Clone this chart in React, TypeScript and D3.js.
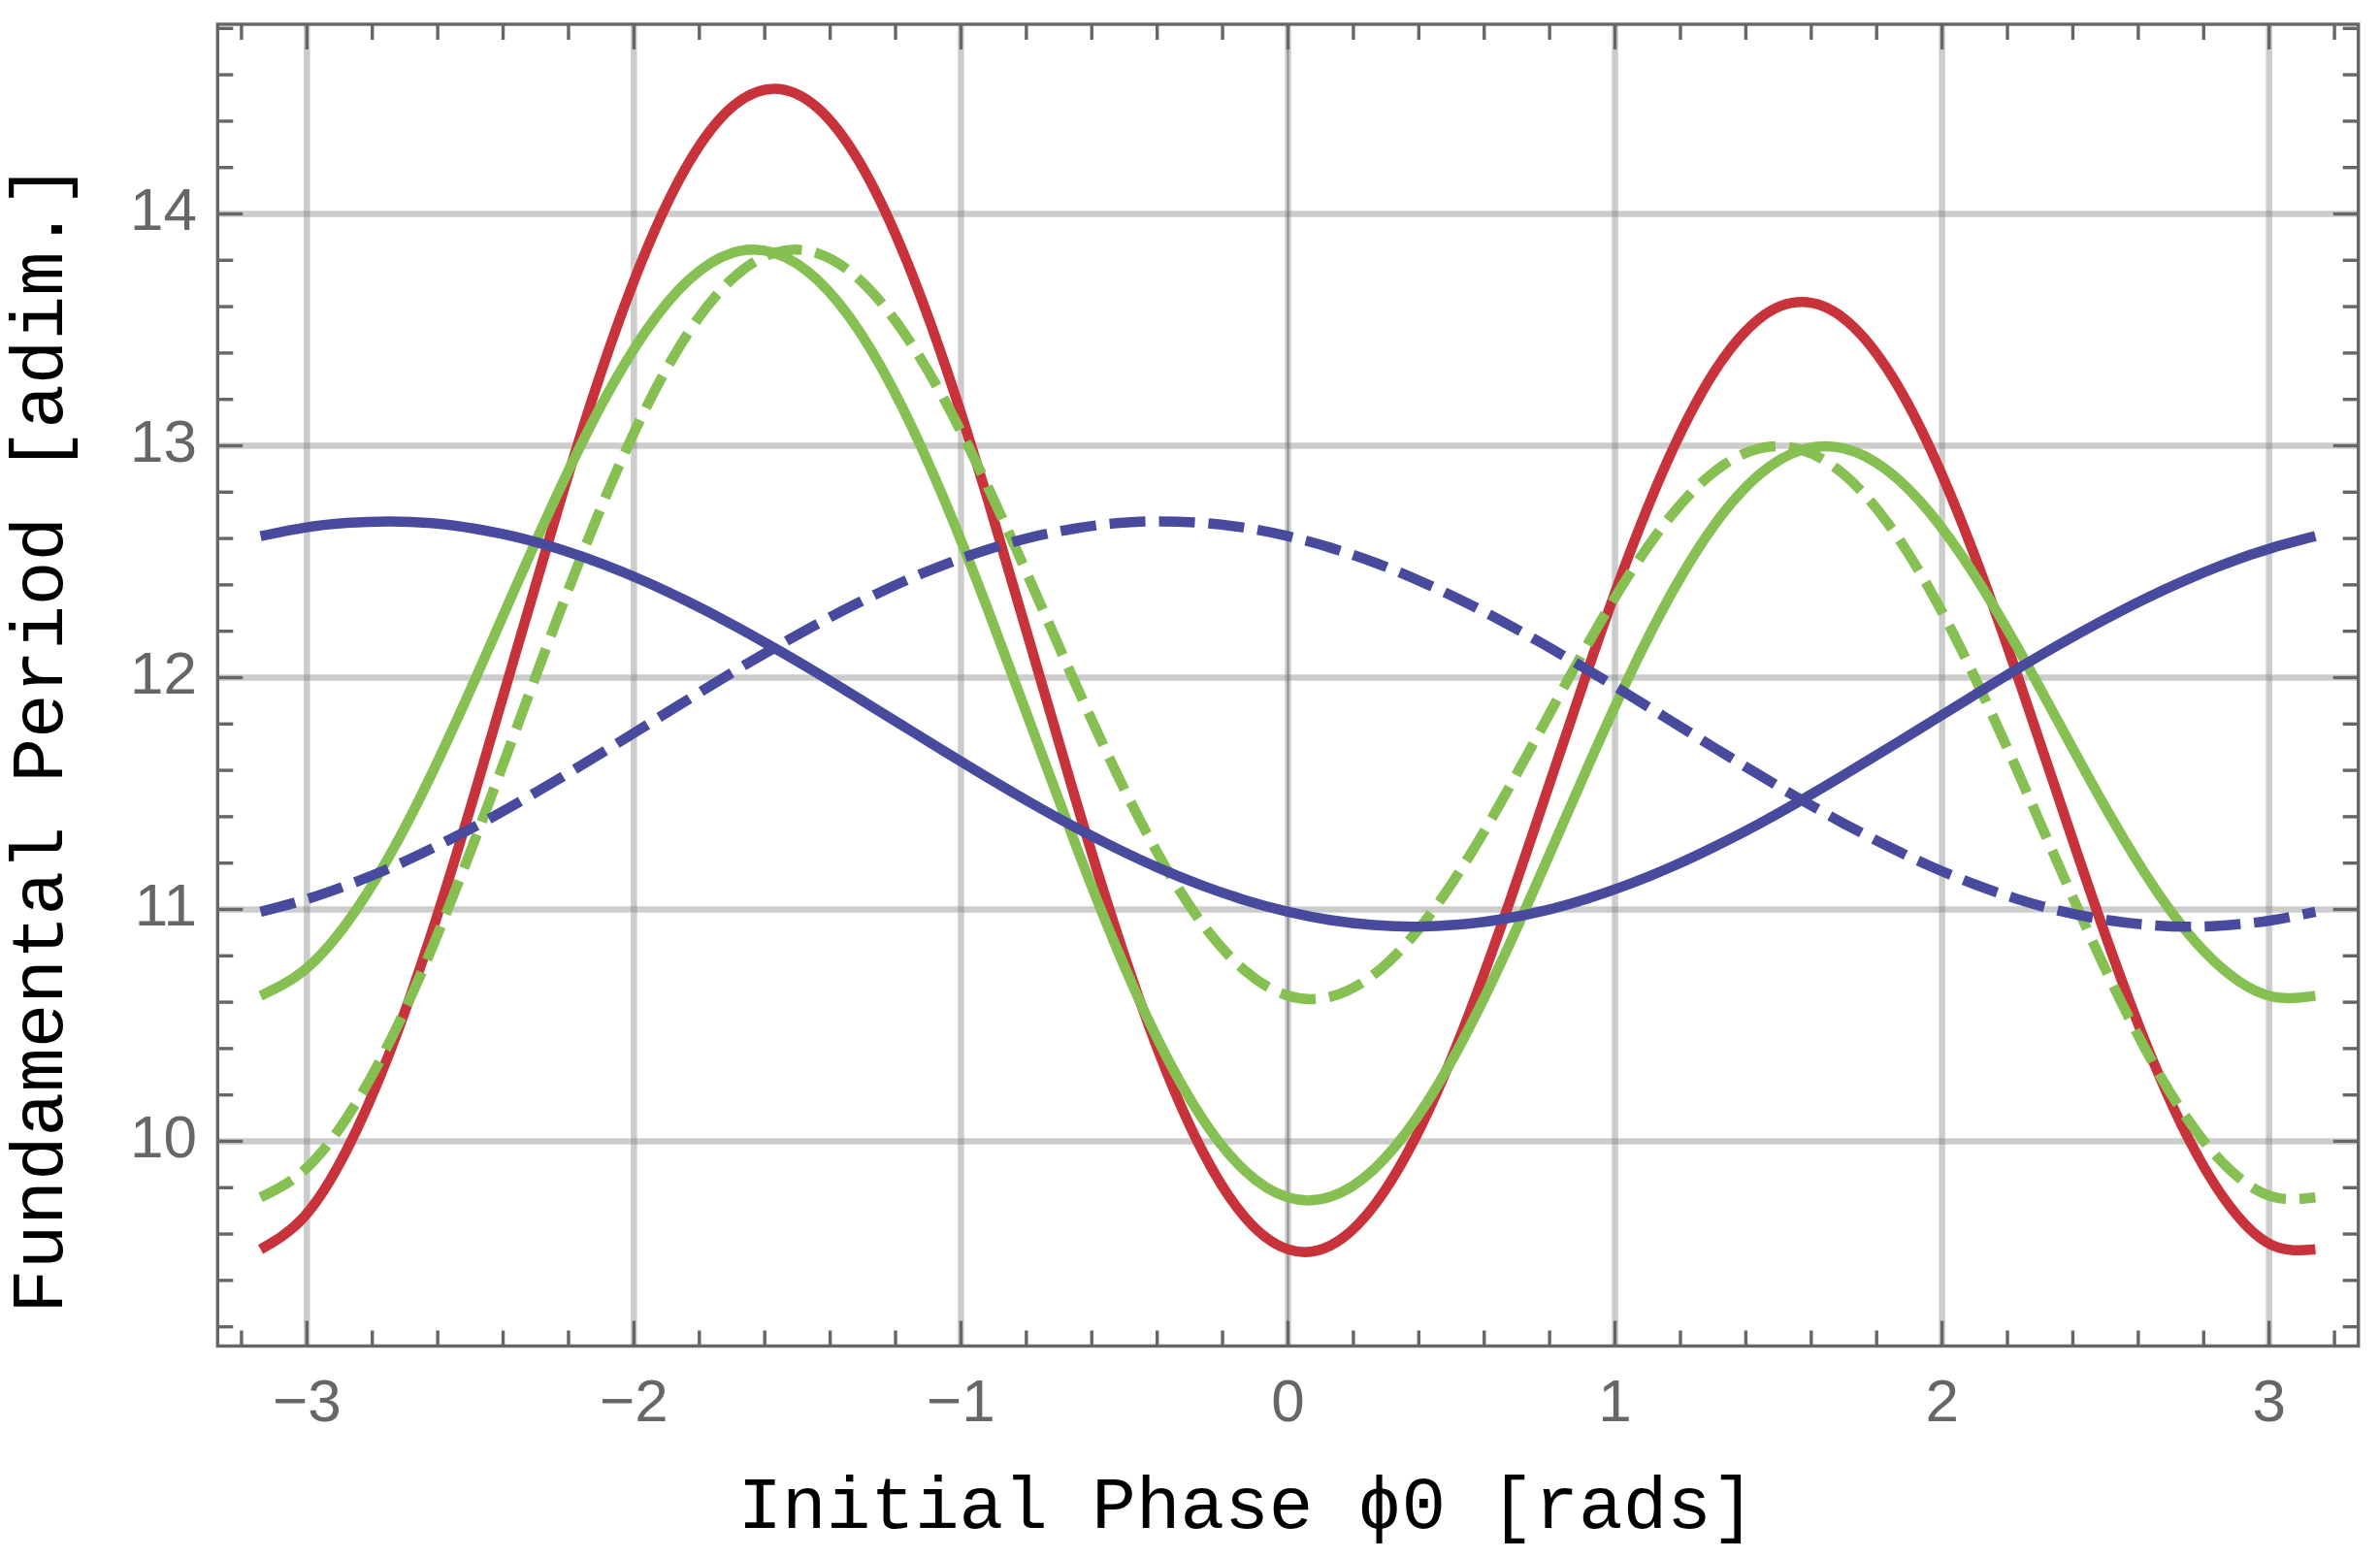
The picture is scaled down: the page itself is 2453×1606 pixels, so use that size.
import React from 'react';
import * as d3 from 'd3';

// Initial phase samples (rad), from -pi to pi in pi/24 steps
const phase = [
  -3.1416, -3.0107, -2.8798, -2.7489, -2.618, -2.4871, -2.3562, -2.2253, -2.0944, -1.9635,
  -1.8326, -1.7017, -1.5708, -1.4399, -1.309, -1.1781, -1.0472, -0.9163, -0.7854, -0.6545,
  -0.5236, -0.3927, -0.2618, -0.1309, 0, 0.1309, 0.2618, 0.3927, 0.5236, 0.6545, 0.7854,
  0.9163, 1.0472, 1.1781, 1.309, 1.4399, 1.5708, 1.7017, 1.8326, 1.9635, 2.0944, 2.2253,
  2.3562, 2.4871, 2.618, 2.7489, 2.8798, 3.0107, 3.1416,
];

const redSolid = [
  9.534, 9.671, 9.958, 10.376, 10.901, 11.499, 12.132, 12.76, 13.342, 13.839, 14.22, 14.459,
  14.54, 14.459, 14.22, 13.839, 13.342, 12.76, 12.132, 11.499, 10.901, 10.376, 9.958, 9.671,
  9.534, 9.551, 9.72, 10.024, 10.441, 10.939, 11.482, 12.03, 12.545, 12.989, 13.331, 13.547,
  13.62, 13.547, 13.331, 12.989, 12.545, 12.03, 11.482, 10.939, 10.441, 10.024, 9.72, 9.551,
  9.534,
];

const greenSolid = [
  10.628, 10.735, 10.938, 11.228, 11.586, 11.988, 12.408, 12.818, 13.189, 13.495, 13.715,
  13.831, 13.832, 13.717, 13.49, 13.162, 12.754, 12.288, 11.793, 11.298, 10.832, 10.424,
  10.098, 9.872, 9.758, 9.761, 9.878, 10.099, 10.407, 10.78, 11.192, 11.614, 12.018, 12.377,
  12.669, 12.874, 12.982, 12.988, 12.894, 12.71, 12.453, 12.144, 11.807, 11.471, 11.161,
  10.903, 10.719, 10.624, 10.628,
];

const greenDashed = [
  9.758, 9.872, 10.098, 10.424, 10.832, 11.298, 11.793, 12.288, 12.754, 13.162, 13.49,
  13.717, 13.832, 13.831, 13.715, 13.495, 13.189, 12.818, 12.408, 11.988, 11.586, 11.228,
  10.938, 10.735, 10.628, 10.624, 10.719, 10.903, 11.161, 11.471, 11.807, 12.144, 12.453,
  12.71, 12.894, 12.988, 12.982, 12.874, 12.669, 12.377, 12.018, 11.614, 11.192, 10.78,
  10.407, 10.099, 9.878, 9.761, 9.758,
];

const blueSolid = [
  12.61, 12.646, 12.667, 12.674, 12.666, 12.642, 12.605, 12.553, 12.489, 12.413, 12.326,
  12.231, 12.128, 12.02, 11.907, 11.793, 11.679, 11.567, 11.459, 11.357, 11.263, 11.177,
  11.103, 11.04, 10.99, 10.954, 10.933, 10.926, 10.935, 10.958, 10.995, 11.047, 11.111,
  11.187, 11.274, 11.369, 11.472, 11.581, 11.693, 11.807, 11.921, 12.033, 12.141, 12.243,
  12.338, 12.423, 12.498, 12.56, 12.61,
];

const blueDashed = [
  10.99, 11.04, 11.103, 11.177, 11.263, 11.357, 11.459, 11.567, 11.679, 11.793, 11.907,
  12.02, 12.128, 12.231, 12.326, 12.413, 12.489, 12.553, 12.605, 12.642, 12.666, 12.674,
  12.667, 12.646, 12.61, 12.56, 12.498, 12.423, 12.338, 12.243, 12.141, 12.033, 11.921,
  11.807, 11.693, 11.581, 11.472, 11.369, 11.274, 11.187, 11.111, 11.047, 10.995, 10.958,
  10.935, 10.926, 10.933, 10.954, 10.99,
];

const xTicks = [-3, -2, -1, 0, 1, 2, 3];
const yTicks = [10, 11, 12, 13, 14];
const xMinor = d3.range(-16, 17).map((i) => i / 5);
const yMinor = d3.range(46, 75).map((i) => i / 5);

const xTitle = 'Initial Phase \u03D50 [rads]';
const yTitle = 'Fundamental Period [adim.]';

const series = [
  { values: redSolid, color: '#C8323A', dash: null },
  { values: greenSolid, color: '#87C052', dash: null },
  { values: greenDashed, color: '#87C052', dash: '37 14' },
  { values: blueSolid, color: '#484A9D', dash: null },
  { values: blueDashed, color: '#484A9D', dash: '37 14' },
];

const W = 2453;
const H = 1606;
const L = 224.3;
const R = 2430.7;
const T = 25;
const B = 1387.5;

export default function App() {
  const x = d3.scaleLinear().domain([-3.273, 3.273]).range([L, R]);
  const y = d3.scaleLinear().domain([9.117, 14.818]).range([B, T]);
  const line = d3
    .line<number>()
    .x((_, i) => x(phase[i]))
    .y((d) => y(d))
    .curve(d3.curveNatural);

  const frameColor = '#666666';
  const isMajor = (v: number, majors: number[]) => majors.some((m) => Math.abs(m - v) < 1e-6);
  const majorLen = 26;
  const minorLen = 16;
  const tickW = 3.4;

  return (
    <svg
      width={W}
      height={H}
      viewBox={`0 0 ${W} ${H}`}
      style={{ position: 'absolute', left: 0, top: 0, background: '#fff' }}
    >
      <rect x={0} y={0} width={W} height={H} fill="#ffffff" />
      {/* grid */}
      <g stroke="#808080" strokeOpacity={0.4} strokeWidth={6.5}>
        {xTicks.map((t) => (
          <line key={'gx' + t} x1={x(t)} x2={x(t)} y1={T} y2={B} />
        ))}
        {yTicks.map((t) => (
          <line key={'gy' + t} x1={L} x2={R} y1={y(t)} y2={y(t)} />
        ))}
      </g>
      {/* zero axis */}
      <line x1={x(0)} x2={x(0)} y1={T} y2={B} stroke="#777777" strokeOpacity={0.75} strokeWidth={1.8} />
      {/* curves */}
      <g fill="none" strokeWidth={10.5} strokeLinejoin="round" strokeLinecap="butt">
        {series.map((s, i) => (
          <path
            key={i}
            d={line(s.values) || ''}
            stroke={s.color}
            strokeDasharray={s.dash || undefined}
          />
        ))}
      </g>
      {/* frame */}
      <rect x={L} y={T} width={R - L} height={B - T} fill="none" stroke={frameColor} strokeWidth={3.4} />
      {/* ticks */}
      <g stroke={frameColor} strokeWidth={tickW}>
        {xMinor.map((t) => {
          const len = isMajor(t, xTicks) ? majorLen : minorLen;
          return (
            <g key={'tx' + t}>
              <line x1={x(t)} x2={x(t)} y1={B} y2={B - len} />
              <line x1={x(t)} x2={x(t)} y1={T} y2={T + len} />
            </g>
          );
        })}
        {yMinor.map((t) => {
          const len = isMajor(t, yTicks) ? majorLen : minorLen;
          return (
            <g key={'ty' + t}>
              <line x1={L} x2={L + len} y1={y(t)} y2={y(t)} />
              <line x1={R} x2={R - len} y1={y(t)} y2={y(t)} />
            </g>
          );
        })}
      </g>
      {/* tick labels */}
      <g fill={frameColor} fontFamily="'Liberation Sans', Arial, Helvetica, sans-serif" fontSize={62}>
        {xTicks.map((t) => (
          <text key={'lx' + t} x={x(t)} y={1465} textAnchor="middle">
            {t < 0 ? '\u2212' + Math.abs(t) : String(t)}
          </text>
        ))}
        {yTicks.map((t) => (
          <text key={'ly' + t} x={203} y={y(t) + 16.5} textAnchor="end">
            {String(t)}
          </text>
        ))}
      </g>
      {/* axis titles */}
      <g fill="#000" fontFamily="'Liberation Mono', 'Courier New', monospace" fontSize={76}>
        <text x={1285} y={1575} textAnchor="middle">
          {xTitle}
        </text>
        <text transform="translate(64,761) rotate(-90)" textAnchor="middle">
          {yTitle}
        </text>
      </g>
    </svg>
  );
}
